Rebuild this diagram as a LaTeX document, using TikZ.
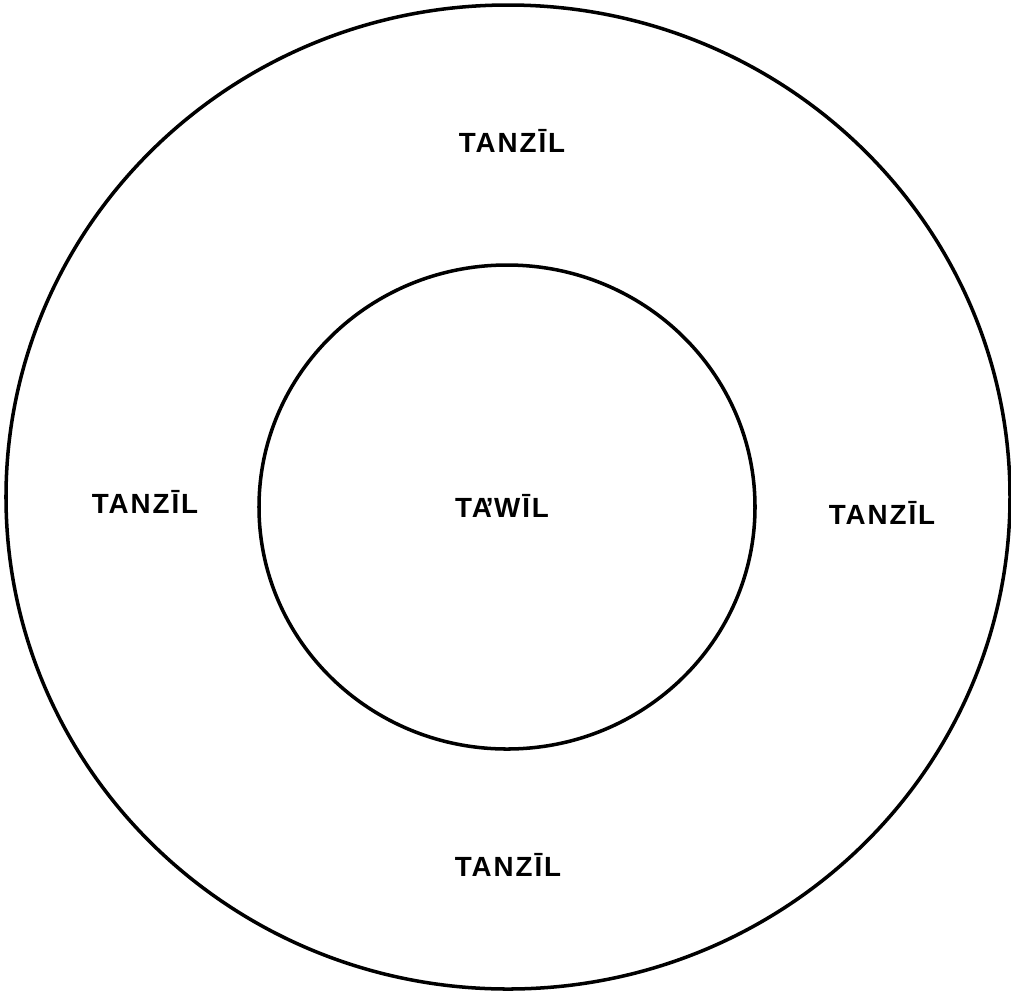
\documentclass[tikz,border=0pt]{standalone}
\usepackage{fontspec}
\newfontfamily\labelfont[LetterSpace=7]{Liberation Sans Bold}
\begin{document}
\begin{tikzpicture}[x=0.02cm,y=-0.02cm,line cap=butt,line join=miter]
		\tikzset{ring/.style={line width=2pt},
			word/.style={font=\labelfont\fontsize{15.8}{18}\selectfont,inner sep=0pt,anchor=base}
		}
		\useasboundingbox (0,0) rectangle (1011,992);
		\draw[ring] (508,497) ellipse [x radius=502,y radius=492];
		\draw[ring] (507,507) ellipse [x radius=248,y radius=242];
		\node[word] (tanzilN) at (512,152) {TANZĪL};
		\node[word] (tanzilW) at (145,513) {TANZĪL};
		\node[word] (tanzilE) at (882,524) {TANZĪL};
		\node[word] (tanzilS) at (508,876) {TANZĪL};
		\node[word] (tawil) at (502,517) {TA\kern-0.22em’\kern0.02em WĪL};
	\end{tikzpicture}
\end{document}
